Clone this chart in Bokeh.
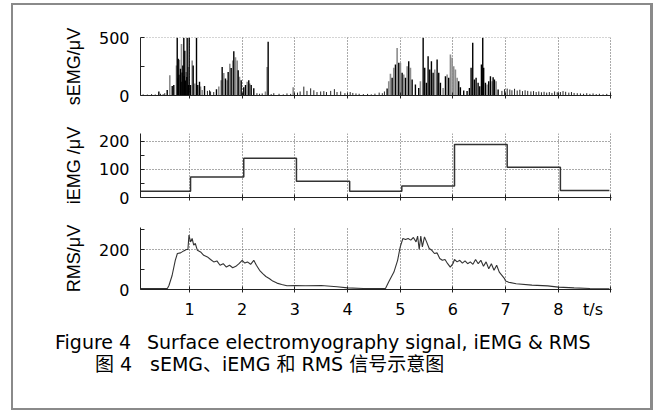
import html
from bokeh.plotting import figure
from bokeh.models import Range1d, FixedTicker, Div
from bokeh.layouts import column
from bokeh.embed import file_html
from bokeh.resources import INLINE

# ---------------- data ----------------
# sEMG (µV): spikes
semg_black_t = [0.418, 0.577, 0.672, 0.702, 0.767, 0.78, 0.786, 0.80, 0.829, 0.84, 0.86, 0.873, 0.892,
                0.90, 0.911, 0.92, 0.956, 0.95, 0.98, 0.994, 1.019, 1.070, 1.133, 1.157, 1.190, 1.285,
                1.512, 1.620, 1.683, 1.734, 1.791, 1.841, 1.924, 1.981, 2.030, 2.063, 2.125, 2.171,
                2.220, 2.493,
                4.751, 4.846, 4.909, 4.972, 5.036, 5.099, 5.161, 5.226, 5.288, 5.351, 5.435, 5.465,
                5.497, 5.529, 5.560, 5.592, 5.624, 5.700, 5.731, 5.763, 5.858, 5.920, 6.110, 6.142,
                6.205, 6.269, 6.313, 6.345, 6.376, 6.408, 6.440, 6.478, 6.509, 6.541, 6.566, 6.584,
                6.617, 6.679, 6.712, 6.763, 6.788, 6.858]
semg_black_v = [34, 48, 82, 90, 500, 150, 318, 180, 233, 120, 200, 261, 500,
                170, 389, 130, 500, 160, 90, 500, 91, 261, 500, 91, 119, 82,
                54, 247, 148, 204, 238, 383, 219, 133, 71, 91, 133, 91,
                62, 466,
                61, 153, 269, 283, 197, 153, 298, 139, 95, 66, 500, 240,
                110, 341, 225, 298, 197, 312, 197, 110, 168, 153, 124, 72,
                43, 38, 66, 240, 457, 139, 153, 110, 81, 269, 500, 240,
                110, 124, 168, 159, 139, 52]
semg_gray_t = [0.626, 0.753, 0.810, 0.848, 0.937, 0.975, 1.051, 1.101, 1.209, 1.241, 1.556, 1.601,
               1.651, 1.715, 1.765, 1.822, 1.873, 1.905, 1.949, 2.095, 2.144, 2.442, 2.474, 2.968,
               4.782, 4.814, 4.877, 4.941, 5.004, 5.066, 5.131, 5.194, 5.383, 5.655, 5.814, 5.890,
               5.953, 5.985, 6.015, 6.047, 6.080, 6.649, 6.744, 6.820]
semg_gray_v = [176, 261, 310, 446, 204, 247, 304, 105, 77, 48, 77, 133,
               196, 133, 275, 304, 332, 304, 162, 119, 105, 34, 247, 71,
               124, 188, 240, 413, 283, 182, 254, 240, 124, 225, 66, 182,
               356, 327, 254, 225, 153, 95, 124, 124]
semg_noise_t = [0.12, 0.20, 0.28, 0.35, 0.45, 0.50, 0.53, 1.34, 1.38, 1.40, 1.46, 2.28, 2.33, 2.38,
                2.55, 2.60, 2.70, 2.78, 2.85, 2.92, 3.05, 3.10, 3.17, 3.23, 3.30, 3.36, 3.42, 3.49,
                3.55, 3.60, 3.68, 3.75, 3.80, 3.87, 3.95, 4.05, 4.10, 4.16, 4.22, 4.30, 4.38, 4.45,
                4.52, 4.60, 4.66, 4.70, 6.93, 6.98, 7.03, 7.08, 7.12, 7.17, 7.22, 7.27, 7.32, 7.37,
                7.42, 7.48, 7.53, 7.58, 7.63, 7.68, 7.73, 7.78, 7.83, 7.88, 7.93, 7.98, 8.04, 8.09,
                8.14, 8.20, 8.25, 8.30, 8.36, 8.42, 8.48, 8.54, 8.60, 8.66, 8.72, 8.78, 8.85, 8.92]
semg_noise_v = [10, 8, 12, 9, 15, 12, 20, 40, 45, 35, 30, 20, 15, 18,
                12, 20, 15, 10, 18, 14, 25, 35, 77, 40, 62, 45, 30, 35,
                38, 30, 40, 55, 30, 35, 20, 30, 22, 18, 15, 12, 14, 10,
                16, 25, 20, 35, 40, 55, 60, 52, 45, 58, 43, 50, 38, 45,
                40, 35, 38, 30, 35, 28, 32, 25, 30, 22, 35, 28, 30, 38,
                32, 25, 30, 22, 20, 18, 15, 20, 14, 18, 12, 15, 10, 14]

# iEMG (µV): step levels between edges (s)
iemg_edges = [0.07, 1.02, 2.03, 3.03, 4.04, 5.03, 6.03, 7.03, 8.04, 8.97]
iemg_levels = [22, 73, 139, 58, 22, 41, 188, 107, 25]

# RMS (µV)
rms_t = [0.07, 0.3, 0.58, 0.61, 0.67, 0.73, 0.77, 0.83, 0.89, 0.94, 0.97, 0.99,
         1.02, 1.05, 1.08, 1.11, 1.15, 1.21, 1.27, 1.34, 1.40, 1.46,
         1.52, 1.58, 1.64, 1.70, 1.76, 1.82, 1.88, 1.94, 2.00,
         2.05, 2.10, 2.16, 2.22, 2.27, 2.33, 2.39, 2.45, 2.52, 2.58,
         2.66, 2.75, 2.85, 3.0, 3.2, 3.5, 3.8, 4.0, 4.3,
         4.72, 4.78, 4.88, 4.95, 5.0,
         5.05, 5.10, 5.15, 5.20, 5.25, 5.30, 5.33, 5.36, 5.39, 5.42,
         5.46, 5.50, 5.55, 5.60, 5.65, 5.70, 5.75, 5.80, 5.85, 5.90,
         5.95, 6.00, 6.03, 6.08, 6.13, 6.18, 6.23, 6.28, 6.33, 6.38,
         6.43, 6.48, 6.53, 6.58, 6.63, 6.68, 6.73, 6.78, 6.83, 6.88,
         6.93, 6.98, 7.0, 7.05, 7.2, 7.5, 7.8, 8.0, 8.3, 8.6, 8.97]
rms_v = [5, 5, 5, 20, 70, 146, 180, 183, 193, 200, 200, 272,
         238, 255, 222, 230, 196, 188, 171, 163, 150, 138,
         143, 121, 129, 112, 121, 109, 116, 129, 146,
         132, 138, 126, 146, 121, 96, 79, 65, 54, 42,
         32, 25, 19, 20, 19, 20, 14, 8, 5,
         5, 37, 87, 146, 213,
         255, 250, 255, 247, 260, 238, 267, 200, 267, 213,
         263, 238, 205, 196, 180, 183, 155, 146, 150, 129,
         112, 129, 150, 138, 146, 132, 143, 129, 138, 126,
         150, 129, 146, 116, 138, 104, 129, 96, 121, 87,
         71, 54, 42, 37, 29, 22, 18, 12, 8, 5, 4]

x_ticks = [1, 2, 3, 4, 5, 6, 7, 8, 9]
x_label_ticks = [1, 2, 3, 4, 5, 6, 7, 8, 8.66]
x_label_overrides = {8.66: "t/s"}
ylabels = ["sEMG/μV", "iEMG /μV", "RMS/μV"]
caption_en = ["Figure 4", "Surface electromyography signal, iEMG & RMS"]
caption_cn = ["图 4", "sEMG、iEMG 和 RMS 信号示意图"]

# ---------------- styling helpers ----------------
TICKFONT = "DejaVu Sans"
LABELFONT = "Liberation Sans"
W = 637
xr = Range1d(0.07, 9.01)


def make_fig(h, top, bottom, yr, yticks, yminor, ylabel, show_xlabels):
    p = figure(width=W, height=h, x_range=xr, y_range=Range1d(*yr),
               output_backend="svg", toolbar_location=None,
               min_border_left=127, min_border_right=39,
               min_border_top=top, min_border_bottom=bottom)
    p.outline_line_color = None
    p.background_fill_color = "white"
    p.border_fill_color = "white"
    # x axis: tick marks come from the minor ticks, labels from the major ticks
    xa = p.xaxis[0]
    if show_xlabels:
        xa.ticker = FixedTicker(ticks=x_label_ticks, minor_ticks=x_ticks)
        xa.major_label_overrides = x_label_overrides
    else:
        xa.ticker = FixedTicker(ticks=[], minor_ticks=x_ticks)
    xa.major_tick_line_color = None
    xa.major_tick_in = 0
    xa.major_tick_out = 0
    xa.minor_tick_in = 3
    xa.minor_tick_out = 3
    xa.minor_tick_line_color = "#222222"
    xa.axis_line_color = "#222222"
    xa.major_label_text_font = TICKFONT
    xa.major_label_text_font_size = "16px"
    xa.major_label_text_color = "black"
    xa.major_label_standoff = 7
    ya = p.yaxis[0]
    ya.ticker = FixedTicker(ticks=yticks, minor_ticks=yminor)
    ya.major_tick_in = 4
    ya.major_tick_out = 0
    ya.minor_tick_in = 4
    ya.minor_tick_out = 0
    ya.axis_line_color = "#222222"
    ya.major_tick_line_color = "#222222"
    ya.minor_tick_line_color = "#222222"
    ya.major_label_text_font = TICKFONT
    ya.major_label_text_font_size = "16px"
    ya.major_label_text_color = "black"
    ya.major_label_standoff = 11
    ya.axis_label = ylabel
    ya.axis_label_text_font = LABELFONT
    ya.axis_label_text_font_size = "18px"
    ya.axis_label_text_font_style = "normal"
    ya.axis_label_text_color = "black"
    ya.axis_label_standoff = 12
    # grids
    p.xgrid[0].ticker = FixedTicker(ticks=x_ticks)
    for g in (p.xgrid[0], p.ygrid[0]):
        g.grid_line_color = "#555555"
        g.grid_line_dash = "1 2"
        g.grid_line_width = 1
    return p


# Panel 1: sEMG
p1 = make_fig(110, 32, 20, (0, 503), [0, 500], [250], ylabels[0], False)
p1.segment(x0=semg_noise_t, y0=[0] * len(semg_noise_t), x1=semg_noise_t, y1=semg_noise_v,
           line_color="#222222", line_width=1)
p1.segment(x0=semg_gray_t, y0=[0] * len(semg_gray_t), x1=semg_gray_t, y1=semg_gray_v,
           line_color="#8c8c8c", line_width=1.6)
p1.segment(x0=semg_black_t, y0=[0] * len(semg_black_t), x1=semg_black_t, y1=semg_black_v,
           line_color="#000000", line_width=1.4)

# Panel 2: iEMG
p2 = make_fig(100, 18, 18, (0, 227), [0, 100, 200], [50, 150], ylabels[1], False)
p2.step(x=iemg_edges, y=iemg_levels + [iemg_levels[-1]], mode="after",
        line_color="#333333", line_width=1.5)

# Panel 3: RMS
p3 = make_fig(107, 12, 33, (0, 310), [0, 200], [100, 300], ylabels[2], True)
p3.line(x=rms_t, y=rms_v, line_color="#333333", line_width=1.1)

# Caption (absolute-positioned real text)
CAP_LATIN = "'DejaVu Sans', 'Noto Sans CJK SC', sans-serif"


def span(txt, left, top, size=19):
    return ('<span style="position:absolute;left:%dpx;top:%dpx;font-family:%s;'
            'font-size:%dpx;line-height:%dpx;white-space:nowrap;color:#000;">%s</span>'
            % (left, top, CAP_LATIN, size, size, html.escape(txt)))


cap_html = ('<div style="position:relative;width:%dpx;height:86px;">' % W
            + span(caption_en[0], 42, 11) + span(caption_en[1], 134, 11)
            + span(caption_cn[0], 82, 33) + span(caption_cn[1], 137, 33)
            + '</div>')
cap = Div(text=cap_html, width=W, height=86, margin=0)

layout = column(p1, p2, p3, cap, spacing=0,
                styles={"border-style": "solid", "border-color": "#8a8a8a",
                        "border-width": "2px 3px 2px 2px"},
                margin=(3, 0, 0, 11))

open("out.html", "w").write(file_html(layout, INLINE))
